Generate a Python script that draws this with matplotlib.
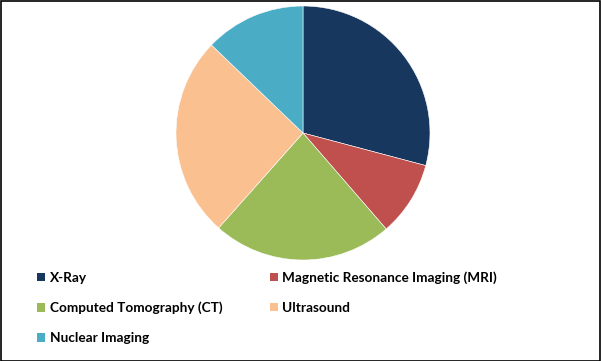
import matplotlib.pyplot as plt
from matplotlib.patches import Patch

# segment names and shares (%), read clockwise from 12 o'clock
labels = ["X-Ray", "Magnetic Resonance Imaging (MRI)", "Computed Tomography (CT)",
          "Ultrasound", "Nuclear Imaging"]
shares = [29.1, 9.5, 22.9, 25.6, 12.8]
colors = ["#17375E", "#C0504D", "#9BBB59", "#FAC090", "#4BACC6"]

W, H = 601, 361
fig = plt.figure(figsize=(W / 100, H / 100), dpi=100)
fig.patch.set_facecolor("white")

# pie: centre ~ (303,133) px, radius ~127 px
cx, cy, r = 303, 133, 127
ax = fig.add_axes([(cx - r) / W, (H - cy - r) / H, 2 * r / W, 2 * r / H])
ax.pie(shares, colors=colors, startangle=90, counterclock=False,
       wedgeprops=dict(edgecolor="white", linewidth=0.4))
ax.set_xlim(-1, 1)
ax.set_ylim(-1, 1)
ax.set_aspect("equal")

# legend reads row-wise, matplotlib fills column-wise -> reorder
order = [0, 2, 4, 1, 3]
handles = [Patch(facecolor=colors[i], edgecolor="none") for i in order]
leg = fig.legend(handles, [labels[i] for i in order], ncol=2,
                 loc="upper left", bbox_to_anchor=(25 / W, 1 - 259 / H),
                 frameon=False, handlelength=0.6, handleheight=0.6,
                 handletextpad=0.3, columnspacing=3.5, labelspacing=1.32,
                 prop=dict(family="Lato", weight="bold", size=9.8))

# thin black frame around the whole figure
fig.add_artist(plt.Rectangle((0.5 / W, 0.5 / H), 1 - 1.5 / W, 1 - 1.5 / H,
                             transform=fig.transFigure, fill=False,
                             edgecolor="black", linewidth=1.2))

fig.savefig("out.png", dpi=100)
